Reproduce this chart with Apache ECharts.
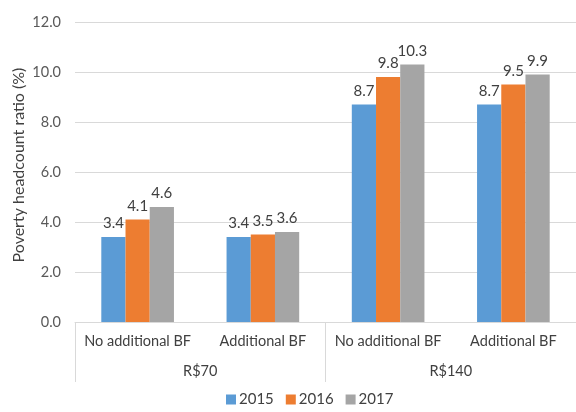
<!DOCTYPE html>
<html>
<head>
<meta charset="utf-8">
<script src="https://cdn.jsdelivr.net/npm/echarts@6/dist/echarts.min.js"></script>
<style>
  html, body { margin: 0; padding: 0; background: #fff; }
  #chart { width: 576px; height: 412px; }
</style>
</head>
<body>
<div id="chart"></div>
<script>
// Scenario categories (inner level) and benefit thresholds (outer level)
const categories = ['No additional BF', 'Additional BF', 'No additional BF', 'Additional BF'];
const groups = ['R$70', 'R$140'];
const years = ['2015', '2016', '2017'];
const yTitle = 'Poverty headcount ratio (%)';

// Poverty headcount ratio (%) per year
const values2015 = [3.4, 3.4, 8.7, 8.7];
const values2016 = [4.1, 3.5, 9.8, 9.5];
const values2017 = [4.6, 3.6, 10.3, 9.9];

const colors = ['#5B9BD5', '#ED7D31', '#A5A5A5'];
const fontFamily = 'Lato, "Open Sans", sans-serif';

const chart = echarts.init(document.getElementById('chart'));

function barSeries(name, data, color) {
  return {
    name: name,
    type: 'bar',
    data: data,
    barGap: '0%',
    barCategoryGap: '42%',
    itemStyle: { color: color },
    label: {
      show: true,
      position: 'top',
      distance: 6,
      color: '#404040',
      fontSize: 15,
      fontFamily: fontFamily,
      formatter: p => p.value.toFixed(1)
    }
  };
}

chart.setOption({
  animation: false,
  textStyle: { fontFamily: fontFamily },
  grid: { left: 75, top: 22, width: 512, bottom: 90 },
  legend: {
    data: years,
    bottom: 0,
    left: 221,
    itemWidth: 10,
    itemHeight: 10,
    itemGap: 12,
    icon: 'rect',
    textStyle: { color: '#404040', fontSize: 15, fontFamily: fontFamily, padding: [0, 0, 0, -2] }
  },
  // Vertical axis title, placed slightly above the plot's middle
  graphic: [{
    type: 'text',
    x: 19,
    y: 165,
    rotation: Math.PI / 2,
    style: {
      text: yTitle,
      fill: '#404040',
      fontSize: 16,
      fontFamily: fontFamily,
      align: 'center',
      verticalAlign: 'middle'
    }
  }],
  xAxis: [
    {
      type: 'category',
      data: categories,
      axisLine: { lineStyle: { color: '#d9d9d9' } },
      axisTick: { show: false },
      axisLabel: { interval: 0, color: '#404040', fontSize: 14.5, margin: 12, fontFamily: fontFamily }
    },
    {
      type: 'category',
      data: groups,
      position: 'bottom',
      axisLine: { show: false },
      axisTick: { show: true, length: 60, lineStyle: { color: '#d9d9d9' } },
      axisLabel: { interval: 0, color: '#404040', fontSize: 14.5, margin: 42, fontFamily: fontFamily }
    }
  ],
  yAxis: {
    type: 'value',
    min: 0,
    max: 12,
    interval: 2,
    axisLine: { show: false },
    axisTick: { show: false },
    axisLabel: { color: '#595959', fontSize: 14.5, margin: 14, formatter: v => v.toFixed(1), fontFamily: fontFamily },
    splitLine: { lineStyle: { color: '#d9d9d9' } }
  },
  series: [
    barSeries(years[0], values2015, colors[0]),
    barSeries(years[1], values2016, colors[1]),
    barSeries(years[2], values2017, colors[2])
  ]
});
</script>
</body>
</html>
